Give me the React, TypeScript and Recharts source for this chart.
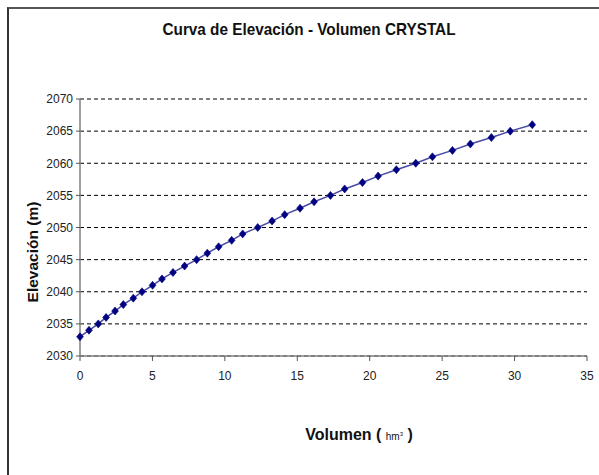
import React from "react";
import { LineChart, Line, XAxis, YAxis, CartesianGrid } from "recharts";

const volumes = [0, 0.62, 1.26, 1.8, 2.42, 2.99, 3.68, 4.28, 5.01, 5.66, 6.42, 7.22, 8.05, 8.79, 9.57, 10.47, 11.23, 12.27, 13.26, 14.13, 15.19, 16.16, 17.29, 18.27, 19.5, 20.58, 21.84, 23.18, 24.33, 25.71, 26.95, 28.4, 29.7, 31.22];
const elevations = [2033, 2034, 2035, 2036, 2037, 2038, 2039, 2040, 2041, 2042, 2043, 2044, 2045, 2046, 2047, 2048, 2049, 2050, 2051, 2052, 2053, 2054, 2055, 2056, 2057, 2058, 2059, 2060, 2061, 2062, 2063, 2064, 2065, 2066];
const xTicks = [0, 5, 10, 15, 20, 25, 30, 35];
const yTicks = [2030, 2035, 2040, 2045, 2050, 2055, 2060, 2065, 2070];

const data = volumes.map((v, i) => ({ vol: v, elev: elevations[i] }));

const FONT = "'Liberation Sans Narrow', 'Arial Narrow', 'Liberation Sans', Arial, sans-serif";

const Diamond = (props: any) => {
  const { cx, cy } = props;
  if (cx == null || cy == null) return null;
  const r = 4;
  return (
    <path
      d={`M${cx},${cy - r} L${cx + r * 0.85},${cy} L${cx},${cy + r} L${cx - r * 0.85},${cy} Z`}
      fill="#000080"
      stroke="#000080"
      strokeWidth={0.6}
    />
  );
};

export default function App() {
  return (
    <div style={{ position: "absolute", left: 0, top: 0, width: 599, height: 475, background: "#fff", overflow: "hidden" }}>
      <div
        style={{
          position: "absolute",
          left: 7,
          top: 7,
          width: 599,
          height: 480,
          borderTop: "2px solid #555",
          borderLeft: "2px solid #333",
          boxSizing: "border-box",
        }}
      />
      <LineChart
        width={599}
        height={475}
        data={data}
        margin={{ top: 99, right: 12, bottom: 89, left: 30 }}
        style={{ position: "absolute", left: 0, top: 0 }}
      >
        <CartesianGrid horizontal={true} vertical={false} stroke="#000" strokeDasharray="4 3" strokeWidth={1} />
        <XAxis
          dataKey="vol"
          type="number"
          domain={[0, 35]}
          ticks={xTicks}
          height={30}
          axisLine={{ stroke: "#808080", strokeWidth: 1.5 }}
          tickLine={{ stroke: "#555" }}
          tickSize={5}
          tickMargin={10}
          tick={{ fill: "#222", fontSize: 12, fontFamily: FONT }}
          interval={0}
        />
        <YAxis
          dataKey="elev"
          type="number"
          domain={[2030, 2070]}
          ticks={yTicks}
          width={50}
          axisLine={{ stroke: "#808080", strokeWidth: 1.5 }}
          tickLine={{ stroke: "#555" }}
          tickSize={4}
          tickMargin={3}
          tick={{ fill: "#222", fontSize: 12, fontFamily: FONT }}
          interval={0}
        />
        <Line
          type="linear"
          dataKey="elev"
          stroke="#4a4aa8"
          strokeWidth={1.5}
          dot={<Diamond />}
          isAnimationActive={false}
        />
      </LineChart>
      <div
        style={{
          position: "absolute",
          left: 309,
          top: 30,
          transform: "translate(-50%, -50%) scaleX(0.9)",
          whiteSpace: "nowrap",
          fontFamily: FONT,
          fontWeight: "bold",
          fontSize: 17,
          color: "#111",
        }}
      >
        Curva de Elevación - Volumen CRYSTAL
      </div>
      <div
        style={{
          position: "absolute",
          left: 33,
          top: 252,
          transform: "translate(-50%, -50%) rotate(-90deg)",
          whiteSpace: "nowrap",
          fontFamily: "'Liberation Sans', Arial, sans-serif",
          fontWeight: "bold",
          fontSize: 15.5,
          color: "#111",
        }}
      >
        Elevación (m)
      </div>
      <div
        style={{
          position: "absolute",
          left: 0,
          width: 718,
          top: 426,
          textAlign: "center",
          fontFamily: FONT,
          fontWeight: "bold",
          fontSize: 16,
          color: "#111",
          whiteSpace: "nowrap",
        }}
      >
        Volumen ({" "}
        <span style={{ fontSize: 10, fontWeight: "normal" }}>
          hm<sup style={{ fontSize: 6 }}>3</sup>
        </span>{" "}
        )
      </div>
    </div>
  );
}
